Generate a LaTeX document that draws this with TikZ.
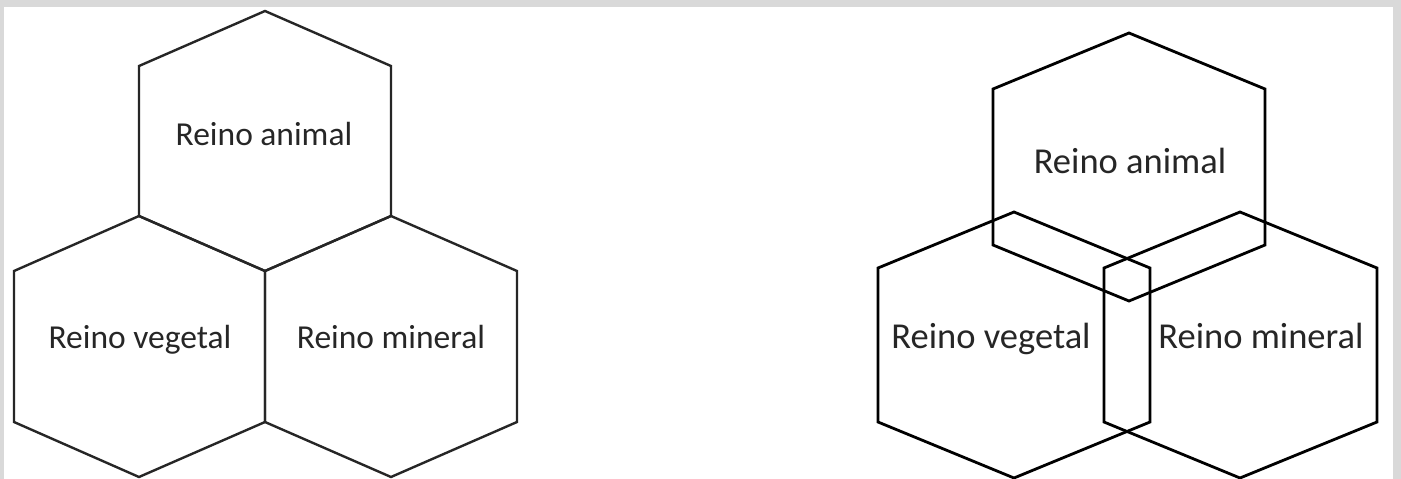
\documentclass[tikz,border=0pt]{standalone}
\usepackage{fontspec}
\setmainfont{Carlito}
\begin{document}
\begin{tikzpicture}[x=1pt,y=-1pt,
  hexleft/.style={draw=black!85,line width=2.4pt,line join=miter},
  hexright/.style={draw=black,line width=2.8pt,line join=miter},
  lblleft/.style={anchor=base,inner sep=0pt,text=black!85,font=\fontsize{33.5}{40}\selectfont},
  lblright/.style={anchor=base,inner sep=0pt,text=black!85,font=\fontsize{36.5}{44}\selectfont}]
\useasboundingbox (0,0) rectangle (1401,479);
\fill[black!15] (0,0) rectangle (1401,479);
\fill[white] (4,7) rectangle (1393,479);
% left figure
\draw[hexleft] (265,11) -- (391,66) -- (391,216) -- (265,271) -- (139,216) -- (139,66) -- cycle;
\draw[hexleft] (139,216) -- (265,271) -- (265,422) -- (139,477) -- (14,422) -- (14,271) -- cycle;
\draw[hexleft] (391,216) -- (517,271) -- (517,422) -- (391,477) -- (265,422) -- (265,271) -- cycle;
\node[lblleft] (la) at (264,145) {Reino animal};
\node[lblleft] (lv) at (140,348) {Reino vegetal};
\node[lblleft] (lm) at (391,348) {Reino mineral};
% right figure
\draw[hexright] (1129,33) -- (1265,89) -- (1265,245) -- (1129,301) -- (993,245) -- (993,89) -- cycle;
\draw[hexright] (1014,212) -- (1150,268) -- (1150,422) -- (1014,478) -- (878,422) -- (878,268) -- cycle;
\draw[hexright] (1240,212) -- (1377,268) -- (1377,422) -- (1240,478) -- (1104,422) -- (1104,268) -- cycle;
\node[lblright] (ra) at (1130,173) {Reino animal};
\node[lblright] (rv) at (991,348) {Reino vegetal};
\node[lblright] (rm) at (1261,348) {Reino mineral};
\end{tikzpicture}
\end{document}
